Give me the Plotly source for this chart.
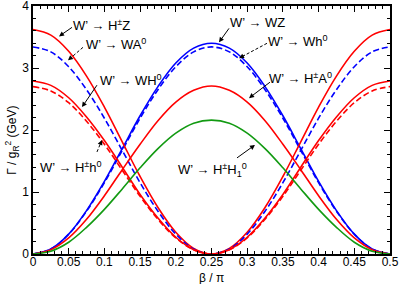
import plotly.graph_objects as go

# beta / pi sample points
beta = [0.0, 0.025, 0.05, 0.075, 0.1, 0.125, 0.15, 0.175, 0.2, 0.225, 0.25,
        0.275, 0.3, 0.325, 0.35, 0.375, 0.4, 0.425, 0.45, 0.475, 0.5]

# Gamma / g_R^2 (GeV)
g_HpZ = [3.62, 3.53, 3.27, 2.87, 2.37, 1.81, 1.25, 0.75, 0.35, 0.09, 0.0,
         0.09, 0.35, 0.75, 1.25, 1.81, 2.37, 2.87, 3.27, 3.53, 3.62]
g_WA0 = [3.34, 3.26, 3.02, 2.65, 2.19, 1.67, 1.15, 0.69, 0.32, 0.08, 0.0,
         0.08, 0.32, 0.69, 1.15, 1.67, 2.19, 2.65, 3.02, 3.26, 3.34]
g_WH0 = [2.79, 2.72, 2.52, 2.21, 1.83, 1.40, 0.96, 0.58, 0.27, 0.07, 0.0,
         0.07, 0.27, 0.58, 0.96, 1.40, 1.83, 2.21, 2.52, 2.72, 2.79]
g_Hph0 = [2.70, 2.63, 2.44, 2.14, 1.77, 1.35, 0.93, 0.56, 0.26, 0.07, 0.0,
          0.07, 0.26, 0.56, 0.93, 1.35, 1.77, 2.14, 2.44, 2.63, 2.70]
g_WZ = [0.0, 0.08, 0.32, 0.70, 1.17, 1.70, 2.23, 2.70, 3.08, 3.32, 3.40,
        3.32, 3.08, 2.70, 2.23, 1.70, 1.17, 0.70, 0.32, 0.08, 0.0]
g_Wh0 = [0.0, 0.08, 0.32, 0.69, 1.15, 1.67, 2.19, 2.65, 3.02, 3.26, 3.34,
         3.26, 3.02, 2.65, 2.19, 1.67, 1.15, 0.69, 0.32, 0.08, 0.0]
g_HpA0 = [0.0, 0.07, 0.26, 0.56, 0.94, 1.36, 1.77, 2.15, 2.45, 2.64, 2.71,
          2.64, 2.45, 2.15, 1.77, 1.36, 0.94, 0.56, 0.26, 0.07, 0.0]
g_HpH1 = [0.0, 0.045, 0.19, 0.43, 0.72, 1.05, 1.39, 1.70, 1.95, 2.11, 2.16,
          2.11, 1.95, 1.70, 1.39, 1.05, 0.72, 0.43, 0.19, 0.045, 0.0]

x_tickvals = [0, 0.05, 0.1, 0.15, 0.2, 0.25, 0.3, 0.35, 0.4, 0.45, 0.5]
x_ticktext = ["0", "0.05", "0.1", "0.15", "0.2", "0.25", "0.3", "0.35", "0.4", "0.45", "0.5"]
y_tickvals = [0, 1, 2, 3, 4]
y_ticktext = ["0", "1", "2", "3", "4"]

RED = "#ff0000"
BLUE = "#0000ff"
GREEN = "#129a12"

series = [
    (g_WZ, BLUE, "solid"),
    (g_Wh0, BLUE, "6px,3px"),
    (g_HpZ, RED, "solid"),
    (g_WA0, BLUE, "6px,3px"),
    (g_WH0, RED, "solid"),
    (g_Hph0, RED, "6px,3px"),
    (g_HpA0, RED, "solid"),
    (g_HpH1, GREEN, "solid"),
]

fig = go.Figure()
for ys, col, dash in series:
    fig.add_trace(go.Scatter(x=beta, y=ys, mode="lines",
                             line=dict(color=col, width=1.6, dash=dash, shape="spline", smoothing=1.0),
                             showlegend=False, hoverinfo="skip"))

FONT = "Liberation Sans, Arial, sans-serif"

labels = [
    ("W’ → H<sup>±</sup>Z", 0.0966, 3.70),
    ("W’ → WA<sup>0</sup>", 0.116, 3.38),
    ("W’ → WH<sup>0</sup>", 0.137, 2.80),
    ("W’ → H<sup>±</sup>h<sup>0</sup>", 0.053, 1.41),
    ("W’ → WZ", 0.314, 3.73),
    ("W’ → Wh<sup>0</sup>", 0.370, 3.43),
    ("W’ → H<sup>±</sup>A<sup>0</sup>", 0.374, 2.84),
    ("W’ → H<sup>±</sup>H<sub>1</sub><sup>0</sup>", 0.252, 1.36),
]
for txt, lx, ly in labels:
    fig.add_annotation(x=lx, y=ly, text=txt, showarrow=False,
                       font=dict(family=FONT, size=13, color="black"))

# arrows: tail (x, y) -> tip (x, y), dashed?
arrows = [
    ((0.0546, 3.655), (0.0364, 3.51), False),
    ((0.0700, 3.333), (0.0490, 3.124), True),
    ((0.0896, 2.723), (0.0686, 2.369), False),
    ((0.0896, 1.646), (0.0966, 1.839), True),
    ((0.2745, 3.639), (0.2605, 3.414), False),
    ((0.3277, 3.398), (0.2885, 3.157), True),
    ((0.3319, 2.771), (0.3025, 2.514), False),
    ((0.2857, 1.550), (0.3109, 1.759), False),
]
for (tx, ty), (hx, hy), dashed in arrows:
    fig.add_shape(type="line", x0=tx, y0=ty, x1=hx + (tx - hx) * 0.15, y1=hy + (ty - hy) * 0.15,
                  xref="x", yref="y", line=dict(color="black", width=1, dash="3px,2px" if dashed else "solid"))
    fig.add_annotation(x=hx, y=hy, ax=hx + (tx - hx) * 0.25, ay=hy + (ty - hy) * 0.25,
                       axref="x", ayref="y", xref="x", yref="y", text="",
                       showarrow=True, arrowhead=2, arrowsize=1, arrowwidth=1, arrowcolor="black")

axis_common = dict(showline=True, linecolor="black", linewidth=1.5, mirror="allticks",
                   ticks="inside", tickcolor="black", tickwidth=1.2, ticklen=6,
                   showgrid=False, zeroline=False, automargin=False,
                   ticklabeloverflow="allow",
                   tickfont=dict(family=FONT, size=12, color="black"))

fig.update_xaxes(range=[0, 0.5], tickvals=x_tickvals, ticktext=x_ticktext,
                 minor=dict(ticks="inside", dtick=0.01, ticklen=3, tickcolor="black", tickwidth=1),
                 ticklabelstandoff=-4,
                 **axis_common)
fig.update_yaxes(range=[0, 4], tickvals=y_tickvals, ticktext=y_ticktext,
                 minor=dict(ticks="inside", dtick=0.2, ticklen=3, tickcolor="black", tickwidth=1),
                 **axis_common)

# axis titles
fig.add_annotation(xref="paper", yref="paper", x=0.5, y=-0.095, yanchor="middle",
                   text="β / π", showarrow=False,
                   font=dict(family=FONT, size=12, color="black"))
fig.add_annotation(xref="paper", yref="paper", x=-0.059, y=0.46, xanchor="center",
                   text="Γ / g<sub>R</sub><sup>2</sup> (GeV)", textangle=-90, showarrow=False,
                   font=dict(family=FONT, size=12, color="black"))

fig.update_layout(width=399, height=284, margin=dict(l=33, r=9, t=6, b=30),
                  paper_bgcolor="white", plot_bgcolor="white")

fig.write_html("out.html", config={"displayModeBar": False},
               post_script="document.body.style.margin='0';document.body.style.padding='0';")
